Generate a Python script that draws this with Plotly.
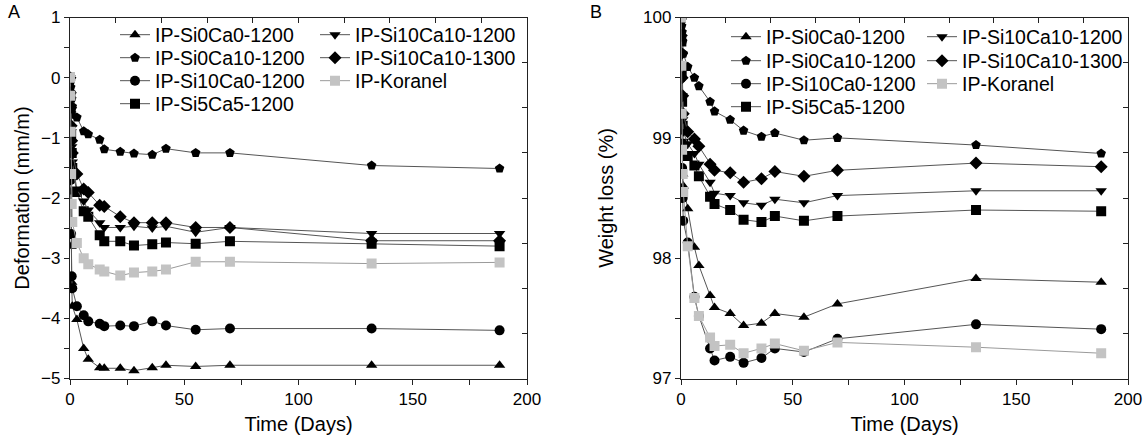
import plotly.graph_objects as go

# ---------------- data ----------------
days = [0, 0.15, 0.3, 0.5, 0.75, 1, 3, 6, 8, 13, 15, 22, 28, 36, 42, 55, 70, 132, 188]

series_names = ["IP-Si0Ca0-1200", "IP-Si0Ca10-1200", "IP-Si10Ca0-1200", "IP-Si5Ca5-1200",
                "IP-Si10Ca10-1200", "IP-Si10Ca10-1300", "IP-Koranel"]

# Panel A: deformation (mm/m)
def_si0ca0 = [0, -0.9, -1.9, -2.8, -3.4, -3.8, -4.02, -4.50, -4.68, -4.82, -4.83, -4.83, -4.87, -4.82, -4.78, -4.80, -4.78, -4.78, -4.78]
def_si0ca10 = [0, -0.08, -0.16, -0.25, -0.35, -0.48, -0.66, -0.89, -0.94, -1.03, -1.19, -1.23, -1.26, -1.28, -1.18, -1.25, -1.25, -1.46, -1.51]
def_si10ca0 = [0, -0.8, -1.7, -2.6, -3.3, -3.5, -3.8, -3.95, -4.05, -4.09, -4.13, -4.12, -4.13, -4.05, -4.12, -4.19, -4.17, -4.17, -4.20]
def_si5ca5 = [0, -0.3, -0.6, -0.95, -1.25, -1.5, -1.9, -2.22, -2.31, -2.62, -2.72, -2.72, -2.79, -2.77, -2.74, -2.76, -2.72, -2.76, -2.80]
def_si10ca10_1200 = [0, -0.3, -0.6, -0.9, -1.15, -1.4, -1.85, -2.05, -2.2, -2.41, -2.49, -2.49, -2.47, -2.50, -2.47, -2.57, -2.49, -2.59, -2.59]
def_si10ca10_1300 = [0, -0.25, -0.5, -0.8, -1.05, -1.25, -1.6, -1.85, -1.91, -2.12, -2.14, -2.31, -2.41, -2.41, -2.41, -2.49, -2.49, -2.71, -2.71]
def_koranel = [0, -0.3, -0.9, -1.6, -2.1, -2.4, -2.75, -3.0, -3.1, -3.19, -3.22, -3.29, -3.24, -3.22, -3.19, -3.06, -3.06, -3.09, -3.07]

# Panel B: weight loss (%)
wl_si0ca0 = [100, 99.6, 99.2, 98.9, 98.7, 98.6, 98.41, 98.09, 97.94, 97.69, 97.59, 97.54, 97.44, 97.46, 97.54, 97.51, 97.62, 97.83, 97.80]
wl_si0ca10 = [100, 99.97, 99.93, 99.88, 99.8, 99.7, 99.59, 99.50, 99.43, 99.30, 99.22, 99.15, 99.06, 99.01, 99.04, 98.98, 99.00, 98.94, 98.87]
wl_si10ca0 = [100, 99.5, 99.1, 98.75, 98.5, 98.31, 98.13, 97.68, 97.52, 97.25, 97.15, 97.18, 97.13, 97.17, 97.25, 97.22, 97.33, 97.45, 97.41]
wl_si5ca5 = [100, 99.8, 99.55, 99.3, 99.1, 98.95, 98.85, 98.77, 98.68, 98.51, 98.45, 98.40, 98.32, 98.30, 98.35, 98.31, 98.35, 98.40, 98.39]
wl_si10ca10_1200 = [100, 99.8, 99.6, 99.35, 99.15, 99.05, 98.95, 98.87, 98.78, 98.63, 98.54, 98.52, 98.46, 98.44, 98.49, 98.46, 98.52, 98.56, 98.56]
wl_si10ca10_1300 = [100, 99.85, 99.7, 99.5, 99.35, 99.2, 99.05, 98.99, 98.93, 98.78, 98.73, 98.71, 98.63, 98.66, 98.72, 98.68, 98.73, 98.79, 98.76]
wl_koranel = [100, 99.6, 99.2, 98.9, 98.7, 98.55, 98.1, 97.67, 97.52, 97.34, 97.27, 97.28, 97.21, 97.25, 97.29, 97.23, 97.30, 97.26, 97.21]

x_ticks = [0, 50, 100, 150, 200]
def_ticks = [-5, -4, -3, -2, -1, 0, 1]
wl_ticks = [97, 98, 99, 100]

# ---------------- styling ----------------
symbols = ["triangle-up", "pentagon", "circle", "square", "triangle-down", "diamond", "square"]
mcolors = ["black"] * 6 + ["#c3c3c3"]
lcolors = ["#555555"] * 6 + ["#9a9a9a"]

FONT = "Liberation Sans, Arial, sans-serif"
W, H = 1147, 443

def px_x(p):
    return p / W

def px_y(p):
    return 1 - p / H

# legend slot positions (pixel): text-left x, row centre y
legA_pos = [(158, 35), (158, 58), (158, 81), (158, 104), (358, 35), (358, 58), (358, 81)]
legB_pos = [(769, 37), (769, 61), (769, 84), (769, 107), (965, 37), (965, 61), (965, 84)]

fig = go.Figure()

def_data = [def_si0ca0, def_si0ca10, def_si10ca0, def_si5ca5, def_si10ca10_1200, def_si10ca10_1300, def_koranel]
wl_data = [wl_si0ca0, wl_si0ca10, wl_si10ca0, wl_si5ca5, wl_si10ca10_1200, wl_si10ca10_1300, wl_koranel]

leg_common = dict(font=dict(family=FONT, size=19.5, color="black"), bgcolor="rgba(0,0,0,0)",
                  borderwidth=0, xanchor="left", yanchor="middle", itemwidth=30)
legend_layout = {}
k = 0
for panel, data, pos, xa, ya in [("A", def_data, legA_pos, "x", "y"), ("B", wl_data, legB_pos, "x2", "y2")]:
    for i, name in enumerate(series_names):
        k += 1
        lname = "legend" if k == 1 else f"legend{k}"
        fig.add_trace(go.Scatter(
            x=days, y=data[i], name=name, mode="lines+markers",
            marker=dict(symbol=symbols[i], size=10, color=mcolors[i], line=dict(width=0)),
            line=dict(color=lcolors[i], width=1),
            xaxis=xa, yaxis=ya, legend=lname))
        tx, ty = pos[i]
        legend_layout[lname] = dict(x=px_x(tx - 43), y=px_y(ty), **leg_common)

# empty traces to register the top/right mirror axes
fig.add_trace(go.Scatter(x=[], y=[], xaxis="x3", yaxis="y3", showlegend=False))
fig.add_trace(go.Scatter(x=[], y=[], xaxis="x4", yaxis="y4", showlegend=False))

dA = [px_x(70), px_x(527)]
dB = [px_x(681), px_x(1128)]
dY = [px_y(378.5), px_y(17.5)]

axis_common = dict(showgrid=False, zeroline=False, showline=True, linecolor="#222222",
                   linewidth=1.3, ticks="outside", ticklen=5, tickwidth=1.2, tickcolor="#222222",
                   automargin=False,
                   tickfont=dict(family=FONT, size=17, color="black"),
                   title_font=dict(family=FONT, size=20, color="black"))
minor_common = dict(ticks="outside", ticklen=5, tickwidth=1.2, tickcolor="#222222", showgrid=False)
mirror_common = dict(showticklabels=False, ticks="inside", ticklen=5, tickwidth=1.2, tickcolor="#222222",
                     showline=True, linecolor="#222222", linewidth=1.3, showgrid=False, zeroline=False,
                     automargin=False)

fig.update_layout(
    xaxis=dict(domain=dA, anchor="y", range=[0, 200], tickvals=x_ticks,
               minor=dict(dtick=25, **minor_common), title=dict(text="Time (Days)", standoff=8), **axis_common),
    yaxis=dict(domain=dY, anchor="x", range=[-5, 1], tickvals=def_ticks,
               minor=dict(dtick=0.5, **minor_common), title=dict(text="Deformation (mm/m)", standoff=6), **axis_common),
    xaxis2=dict(domain=dB, anchor="y2", range=[0, 200], tickvals=x_ticks,
                minor=dict(dtick=25, **minor_common), title=dict(text="Time (Days)", standoff=8), **axis_common),
    yaxis2=dict(domain=dY, anchor="x2", range=[97, 100], tickvals=wl_ticks,
                minor=dict(dtick=0.5, **minor_common), title=dict(text="Weight loss (%)", standoff=24), **axis_common),
    xaxis3=dict(overlaying="x", anchor="y3", side="top", range=[0, 200], dtick=20, tick0=0, **mirror_common),
    yaxis3=dict(overlaying="y", anchor="x3", side="right", range=[-5, 1], dtick=0.75, tick0=-5, **mirror_common),
    xaxis4=dict(overlaying="x2", anchor="y4", side="top", range=[0, 200], dtick=20, tick0=0, **mirror_common),
    yaxis4=dict(overlaying="y2", anchor="x4", side="right", range=[97, 100], dtick=0.375, tick0=97, **mirror_common),
)
fig.update_layout(**legend_layout)

fig.add_annotation(text="A", x=px_x(6), y=px_y(12), xref="paper", yref="paper", showarrow=False,
                   xanchor="left", yanchor="middle", font=dict(family=FONT, size=18, color="black"))
fig.add_annotation(text="B", x=px_x(588), y=px_y(12), xref="paper", yref="paper", showarrow=False,
                   xanchor="left", yanchor="middle", font=dict(family=FONT, size=18, color="black"))

fig.update_layout(width=W, height=H, autosize=False, margin=dict(l=0, r=0, t=0, b=0, autoexpand=False),
                  paper_bgcolor="white", plot_bgcolor="white", showlegend=True)

fig.write_html("out.html")
